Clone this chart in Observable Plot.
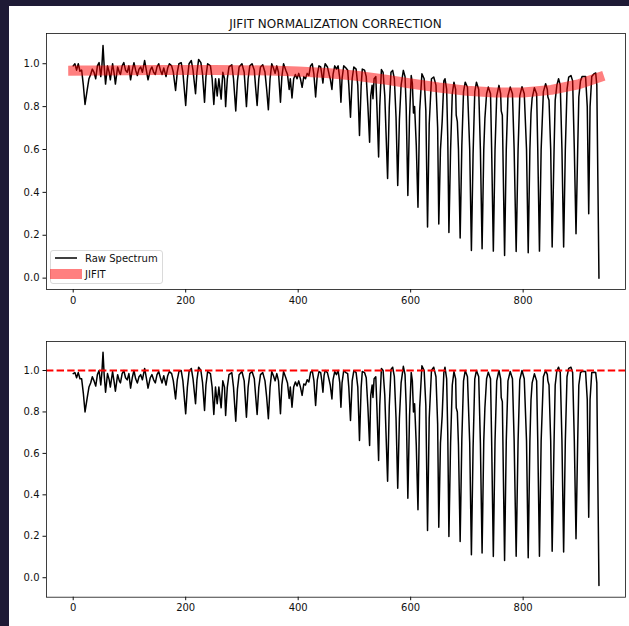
<!DOCTYPE html>
<html>
<head>
<meta charset="utf-8">
<script src="https://cdn.jsdelivr.net/npm/d3@7"></script>
<script src="https://cdn.jsdelivr.net/npm/@observablehq/plot@0.6"></script>
<style>
  html, body { margin: 0; padding: 0; background: #ffffff; }
  #page { position: relative; width: 629px; height: 626px; overflow: hidden; background: #ffffff; font-family: "DejaVu Sans", sans-serif; }
  .edge { position: absolute; background: #1e1a35; }
  .panel { position: absolute; left: 0; }
  .panel svg { display: block; }
  #overlay { position: absolute; left: 0; top: 0; pointer-events: none; }
</style>
</head>
<body>
<div id="page">
  <div id="topPanel" class="panel" style="top:0px"></div>
  <div id="bottomPanel" class="panel" style="top:310px"></div>
  <svg id="overlay" width="629" height="626"></svg>
  <div class="edge" style="left:0;top:0;width:9px;height:626px"></div>
  <div class="edge" style="left:0;top:0;width:629px;height:6px"></div>
</div>
<script>
// Pixel index along the spectrum
const pixelIndex = [
  0, 3, 6, 9, 12, 15, 18, 21, 25, 28,
  31, 34, 37, 40, 43, 46, 49, 51, 53, 55,
  57.5, 61, 64, 66, 70, 73, 75, 79, 82, 84,
  87, 90, 93, 96, 99, 102, 105, 108, 111, 114,
  117, 120, 123, 127, 130, 133, 137, 140, 143, 146,
  149, 152, 155, 158, 161, 165, 168, 171, 175, 178,
  182, 185, 188, 192, 195, 200, 203, 206, 210, 213,
  217.5, 220, 223, 227, 230, 233.5, 236, 239, 244, 247,
  250, 253, 256, 259, 263, 266, 269, 271, 274, 277,
  282, 285, 289, 292, 295, 300, 304, 308, 311, 314,
  318, 322, 324, 327, 330, 333, 337, 341, 344, 347,
  350, 353, 356, 359, 362, 365, 368.5, 371, 374, 378,
  381, 384, 386, 389, 392, 395, 398, 401, 404, 407,
  410, 413, 416, 419, 422, 425, 428, 431, 434, 437,
  440, 442, 444, 446, 448, 452, 455, 457, 460, 462,
  465, 468, 471, 474, 476, 478, 481, 485, 488, 490,
  493, 496, 499, 503, 506, 509, 512, 514, 518, 521,
  524, 527, 529, 531.5, 533, 535, 538, 540, 543, 545,
  548, 551, 554, 559, 562, 565, 568, 571, 574, 577,
  580, 583, 587, 590, 592, 595, 598, 601, 603, 605,
  607, 610, 613, 616, 620, 624, 627, 630, 633, 637,
  641, 645, 648, 650, 653, 656, 659, 661, 664, 666,
  668, 671, 674, 677, 680, 681, 683, 685, 688, 691,
  694, 697, 701, 705, 708, 711, 714, 717, 721, 724,
  727, 730, 732, 735, 738, 742, 744, 747, 750, 753,
  757, 760, 761, 763, 764, 767, 770, 773, 777, 781,
  784, 787.6, 791, 794, 798, 802, 806, 809, 812, 814,
  816, 820, 824, 826, 829, 832, 836, 840, 843, 844,
  846, 849, 851.6, 855, 857, 860, 863, 866, 869, 872,
  875, 878, 881, 885, 888, 891, 894, 897, 899, 902,
  905, 911, 914, 916.6, 919, 922, 926, 929, 931, 934.8
];

// Raw spectrum flux
const rawFlux = [
  0.99, 1.00, 0.97, 1.00, 0.965, 0.97, 0.90, 0.81, 0.88, 0.93,
  0.95, 0.975, 0.96, 0.93, 0.99, 1.005, 0.94, 0.99, 1.085, 0.99,
  0.905, 0.99, 0.96, 0.925, 1.0, 0.95, 0.905, 0.985, 0.96, 0.95,
  0.99, 1.005, 0.97, 0.96, 0.99, 0.925, 0.97, 1.005, 0.97, 0.945,
  0.975, 0.985, 0.96, 1.015, 0.97, 0.925, 0.97, 0.985, 0.96, 0.95,
  0.985, 1.0, 0.97, 0.95, 0.98, 0.94, 0.98, 1.0, 0.99, 0.96,
  0.875, 0.96, 1.0, 1.005, 0.96, 0.805, 0.93, 1.0, 1.015, 0.97,
  0.86, 0.96, 1.02, 1.005, 0.95, 0.82, 0.94, 1.0, 0.99, 0.93,
  0.81, 0.93, 0.85, 0.93, 0.835, 0.96, 0.93, 0.80, 0.93, 0.985,
  0.995, 0.93, 0.78, 0.92, 0.985, 1.0, 0.96, 0.80, 0.93, 0.99,
  1.0, 0.97, 0.90, 0.805, 0.93, 0.985, 0.995, 0.96, 0.88, 0.785,
  0.93, 1.0, 0.98, 0.955, 0.99, 0.96, 0.82, 0.94, 1.0, 0.97,
  0.95, 0.88, 0.93, 0.84, 0.93, 0.95, 0.93, 0.955, 0.93, 0.89,
  0.94, 0.93, 0.955, 0.945, 0.99, 1.0, 0.95, 0.845, 0.95, 0.99,
  0.985, 0.95, 0.91, 0.97, 1.0, 0.985, 0.95, 0.93, 0.88, 0.95,
  0.99, 0.975, 0.99, 0.93, 0.82, 0.93, 0.99, 0.98, 0.97, 0.90,
  0.75, 0.93, 0.985, 0.975, 0.90, 0.665, 0.90, 0.975, 0.97, 0.94,
  0.80, 0.634, 0.85, 0.90, 0.837, 0.93, 0.94, 0.80, 0.565, 0.80,
  0.973, 0.96, 0.85, 0.465, 0.80, 0.96, 0.969, 0.93, 0.75, 0.432,
  0.74, 0.90, 0.969, 0.94, 0.80, 0.386, 0.75, 0.945, 0.91, 0.77,
  0.80, 0.62, 0.331, 0.78, 0.953, 0.93, 0.78, 0.238, 0.72, 0.93,
  0.938, 0.90, 0.70, 0.252, 0.60, 0.73, 0.92, 0.93, 0.88, 0.65,
  0.213, 0.60, 0.86, 0.914, 0.88, 0.76, 0.73, 0.60, 0.187, 0.62,
  0.87, 0.914, 0.89, 0.60, 0.129, 0.58, 0.87, 0.914, 0.88, 0.60,
  0.137, 0.60, 0.745, 0.86, 0.891, 0.86, 0.60, 0.126, 0.60, 0.85,
  0.899, 0.86, 0.78, 0.76, 0.60, 0.106, 0.60, 0.85, 0.891, 0.86,
  0.60, 0.124, 0.60, 0.85, 0.893, 0.86, 0.60, 0.118, 0.60, 0.77,
  0.84, 0.888, 0.86, 0.60, 0.126, 0.60, 0.87, 0.907, 0.88, 0.845,
  0.83, 0.60, 0.145, 0.60, 0.83, 0.90, 0.93, 0.90, 0.60, 0.145,
  0.60, 0.88, 0.938, 0.945, 0.92, 0.60, 0.207, 0.60, 0.845, 0.92,
  0.941, 0.941, 0.80, 0.30, 0.80, 0.94, 0.953, 0.957, 0.90, 0.0
];

// Normalized spectrum flux
const normFlux = [
  0.985, 0.99, 0.965, 0.99, 0.96, 0.96, 0.89, 0.80, 0.87, 0.92,
  0.94, 0.97, 0.95, 0.925, 0.98, 1.0, 0.93, 0.99, 1.088, 0.98,
  0.895, 0.985, 0.955, 0.92, 0.995, 0.94, 0.90, 0.98, 0.95, 0.94,
  0.985, 1.0, 0.965, 0.955, 0.985, 0.915, 0.965, 1.0, 0.96, 0.94,
  0.97, 0.98, 0.955, 1.01, 0.965, 0.915, 0.965, 0.98, 0.955, 0.94,
  0.98, 0.995, 0.965, 0.94, 0.975, 0.93, 0.975, 0.995, 0.985, 0.95,
  0.863, 0.955, 0.995, 1.0, 0.95, 0.791, 0.92, 0.995, 1.01, 0.96,
  0.84, 0.955, 1.016, 1.0, 0.94, 0.807, 0.93, 0.995, 0.985, 0.92,
  0.788, 0.92, 0.84, 0.92, 0.82, 0.95, 0.92, 0.783, 0.92, 0.98,
  0.99, 0.92, 0.755, 0.91, 0.98, 0.995, 0.95, 0.775, 0.92, 0.985,
  0.995, 0.96, 0.89, 0.788, 0.92, 0.98, 0.99, 0.95, 0.87, 0.767,
  0.92, 0.995, 0.975, 0.95, 0.985, 0.95, 0.791, 0.93, 0.995, 0.965,
  0.94, 0.865, 0.92, 0.823, 0.92, 0.945, 0.925, 0.95, 0.92, 0.88,
  0.935, 0.93, 0.955, 0.945, 0.99, 1.0, 0.95, 0.831, 0.955, 0.995,
  0.99, 0.95, 0.895, 0.975, 1.0, 0.99, 0.955, 0.93, 0.863, 0.955,
  0.995, 0.98, 1.0, 0.94, 0.823, 0.94, 1.0, 0.99, 0.985, 0.92,
  0.759, 0.95, 1.0, 0.99, 0.92, 0.662, 0.92, 0.995, 0.99, 0.965,
  0.82, 0.638, 0.88, 0.93, 0.87, 0.96, 0.97, 0.82, 0.566, 0.83,
  1.01, 1.0, 0.88, 0.466, 0.83, 1.005, 1.016, 0.97, 0.77, 0.432,
  0.77, 0.94, 1.02, 0.98, 0.83, 0.384, 0.78, 0.99, 0.95, 0.80,
  0.84, 0.64, 0.328, 0.82, 1.023, 1.0, 0.83, 0.228, 0.77, 1.0,
  1.016, 0.97, 0.74, 0.244, 0.65, 0.78, 0.99, 1.016, 0.96, 0.69,
  0.199, 0.65, 0.93, 0.995, 0.96, 0.82, 0.80, 0.64, 0.175, 0.67,
  0.95, 1.0, 0.97, 0.65, 0.111, 0.63, 0.96, 1.0, 0.97, 0.65,
  0.119, 0.66, 0.82, 0.96, 0.992, 0.96, 0.66, 0.103, 0.66, 0.95,
  1.0, 0.96, 0.87, 0.85, 0.66, 0.083, 0.66, 0.95, 0.995, 0.96,
  0.66, 0.104, 0.66, 0.955, 1.0, 0.96, 0.66, 0.096, 0.66, 0.86,
  0.94, 0.984, 0.95, 0.66, 0.104, 0.66, 0.97, 1.0, 0.98, 0.95,
  0.93, 0.66, 0.128, 0.66, 0.93, 1.0, 1.016, 0.99, 0.66, 0.124,
  0.66, 0.97, 1.01, 1.016, 0.99, 0.66, 0.188, 0.66, 0.93, 0.99,
  0.997, 0.995, 0.86, 0.292, 0.86, 0.99, 0.992, 0.99, 0.94, -0.037
];

// JIFIT continuum fit
const fitIndex = [0, 50, 100, 150, 200, 250, 300, 350, 400, 450, 500, 550, 600, 650, 700, 750, 800, 850, 900, 935];
const fitFlux = [0.968, 0.969, 0.970, 0.971, 0.971, 0.971, 0.970, 0.968, 0.964, 0.957, 0.945, 0.928, 0.908, 0.889, 0.874, 0.866, 0.866, 0.878, 0.905, 0.936];

// Axis ticks
const xTicks = [0, 200, 400, 600, 800];
const yTicks = [0.0, 0.2, 0.4, 0.6, 0.8, 1.0];
const continuumLevel = [1.0];

const titleText = "JIFIT NORMALIZATION CORRECTION";
const legendLabels = ["Raw Spectrum", "JIFIT"];

const raw = pixelIndex.map((x, i) => ({x, y: rawFlux[i]}));
const norm = pixelIndex.map((x, i) => ({x, y: normFlux[i]}));
const fit = fitIndex.map((x, i) => ({x, y: fitFlux[i]}));

const font = "DejaVu Sans, sans-serif";
const axisStyle = {fontFamily: font, fontSize: "10px", background: "transparent", color: "#111", overflow: "visible"};

function panel({height, marginTop, marginBottom, yDomain, marks}) {
  return Plot.plot({
    width: 629,
    height,
    marginLeft: 46,
    marginRight: 4,
    marginTop,
    marginBottom,
    style: axisStyle,
    x: {domain: [-47.5, 982], ticks: xTicks, tickFormat: d3.format("d"), tickSize: 3.5, tickPadding: 3.5, label: null},
    y: {domain: yDomain, ticks: yTicks, tickFormat: d3.format(".1f"), tickSize: 3.5, tickPadding: 3.5, label: null},
    marks: [
      ...marks,
      Plot.frame({stroke: "#111", strokeWidth: 0.8})
    ]
  });
}

const topPlot = panel({
  height: 310,
  marginTop: 33,
  marginBottom: 21,
  yDomain: [-0.053, 1.141],
  marks: [
    Plot.line(raw, {x: "x", y: "y", stroke: "black", strokeWidth: 1.5, strokeLinejoin: "round"}),
    Plot.line(fit, {x: "x", y: "y", stroke: "red", strokeOpacity: 0.5, strokeWidth: 10, strokeLinecap: "square"})
  ]
});
document.getElementById("topPanel").appendChild(topPlot);

const bottomPlot = panel({
  height: 316,
  marginTop: 31,
  marginBottom: 29.3,
  yDomain: [-0.094, 1.14],
  marks: [
    Plot.line(norm, {x: "x", y: "y", stroke: "black", strokeWidth: 1.5, strokeLinejoin: "round"}),
    Plot.ruleY(continuumLevel, {stroke: "red", strokeWidth: 2, strokeDasharray: "7.4,3.2"})
  ]
});
document.getElementById("bottomPanel").appendChild(bottomPlot);

// Title and legend
const ov = d3.select("#overlay");
ov.append("text")
  .attr("x", 335.5).attr("y", 27.5)
  .attr("text-anchor", "middle")
  .attr("font-family", font).attr("font-size", 12).attr("fill", "#111")
  .text(titleText);

const lg = ov.append("g");
lg.append("rect")
  .attr("x", 50.5).attr("y", 250.5).attr("width", 112).attr("height", 33).attr("rx", 2.5)
  .attr("fill", "white").attr("fill-opacity", 0.8).attr("stroke", "#d0d0d0").attr("stroke-width", 0.8);
lg.append("line")
  .attr("x1", 55).attr("x2", 77).attr("y1", 258).attr("y2", 258)
  .attr("stroke", "black").attr("stroke-width", 1.5);
lg.append("line")
  .attr("x1", 55).attr("x2", 77).attr("y1", 274).attr("y2", 274)
  .attr("stroke", "red").attr("stroke-opacity", 0.5).attr("stroke-width", 10).attr("stroke-linecap", "square");
lg.selectAll("text.lab").data(legendLabels).join("text")
  .attr("class", "lab")
  .attr("x", 85).attr("y", (d, i) => 261.5 + i * 16)
  .attr("font-family", font).attr("font-size", 10).attr("fill", "#111")
  .text(d => d);
</script>
</body>
</html>
